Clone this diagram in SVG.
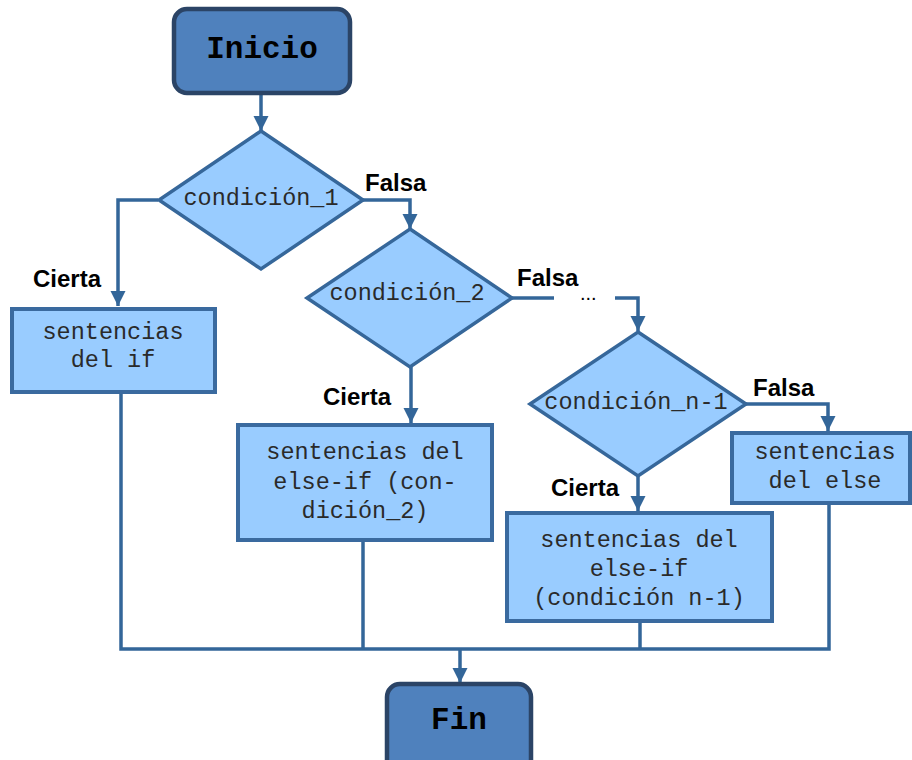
<svg xmlns="http://www.w3.org/2000/svg" width="912" height="760" viewBox="0 0 912 760">
  <defs>
    <marker id="arrow" markerUnits="userSpaceOnUse" markerWidth="16" markerHeight="16" refX="15" refY="7.5" orient="auto">
      <path d="M0,0 L15,7.5 L0,15 z" fill="#336699"/>
    </marker>
    <style>
      .term { fill: #4f81bd; stroke: #2b4466; stroke-width: 4.5; }
      .termtext { font-family: "Liberation Mono", "Courier New", monospace; font-weight: bold; font-size: 31px; fill: #000; text-anchor: middle; }
      .proc { fill: #99ccff; stroke: #3a6a9f; stroke-width: 4; }
      .dec { fill: #99ccff; stroke: #36679a; stroke-width: 3.5; stroke-linejoin: miter; }
      .mono { font-family: "Liberation Mono", "Courier New", monospace; font-size: 23.5px; fill: #2a2a2a; text-anchor: middle; }
      .lbl { font-family: "Liberation Sans", Arial, sans-serif; font-weight: bold; font-size: 24px; fill: #000; }
      .dots { font-family: "Liberation Sans", Arial, sans-serif; font-size: 20px; fill: #000; }
      .wire { fill: none; stroke: #336699; stroke-width: 3.5; }
    </style>
  </defs>

  <rect width="912" height="760" fill="#ffffff"/>

  <!-- connectors and branch labels -->
  <g id="connectors">
    <path class="wire" d="M261,94 V131" marker-end="url(#arrow)"/>
    <path class="wire" d="M362,200 H410 V229" marker-end="url(#arrow)"/>
    <path class="wire" d="M158,200 H118 V306" marker-end="url(#arrow)"/>
    <path class="wire" d="M411,367 V423" marker-end="url(#arrow)"/>
    <path class="wire" d="M511,298 H554"/>
    <path class="wire" d="M615,298 H638 V331" marker-end="url(#arrow)"/>
    <path class="wire" d="M638,476 V511" marker-end="url(#arrow)"/>
    <path class="wire" d="M746,404 H828 V431" marker-end="url(#arrow)"/>
    <path class="wire" d="M121,393 V649 H829 V503"/>
    <path class="wire" d="M363,541 V649"/>
    <path class="wire" d="M640,622 V649"/>
    <path class="wire" d="M460,649 V683" marker-end="url(#arrow)"/>
    <text class="lbl" x="365" y="191">Falsa</text>
    <text class="lbl" x="33" y="287">Cierta</text>
    <text class="lbl" x="517" y="286">Falsa</text>
    <text class="dots" x="580" y="300">...</text>
    <text class="lbl" x="323" y="405">Cierta</text>
    <text class="lbl" x="753" y="396">Falsa</text>
    <text class="lbl" x="551" y="496">Cierta</text>
  </g>

  <g id="inicio">
    <rect class="term" x="174" y="9" width="176" height="84" rx="13"/>
    <text class="termtext" x="262" y="58">Inicio</text>
  </g>

  <g id="cond1">
    <polygon class="dec" points="261,131 363,200 261,269 159,200"/>
    <text class="mono" x="261" y="205">condición_1</text>
  </g>

  <g id="if-body">
    <rect class="proc" x="12" y="309" width="203" height="83"/>
    <text class="mono" x="113" y="339">sentencias</text>
    <text class="mono" x="113" y="367">del if</text>
  </g>

  <g id="cond2">
    <polygon class="dec" points="410,229 512,298 410,367 307,298"/>
    <text class="mono" x="407" y="300">condición_2</text>
  </g>

  <g id="elseif2-body">
    <rect class="proc" x="238" y="425" width="254" height="115"/>
    <text class="mono" x="365" y="459">sentencias del</text>
    <text class="mono" x="365" y="489">else-if (con-</text>
    <text class="mono" x="365" y="518">dición_2)</text>
  </g>

  <g id="condn1">
    <polygon class="dec" points="638,332 746,404 638,476 530,404"/>
    <text class="mono" x="636" y="409">condición_n-1</text>
  </g>

  <g id="elseifn1-body">
    <rect class="proc" x="507" y="513" width="265" height="108"/>
    <text class="mono" x="639" y="547">sentencias del</text>
    <text class="mono" x="639" y="576">else-if</text>
    <text class="mono" x="639" y="605">(condición n-1)</text>
  </g>

  <g id="else-body">
    <rect class="proc" x="732" y="433" width="178" height="70"/>
    <text class="mono" x="825" y="459">sentencias</text>
    <text class="mono" x="825" y="488">del else</text>
  </g>

  <g id="fin">
    <rect class="term" x="387" y="684" width="144" height="90" rx="13"/>
    <text class="termtext" x="459" y="729">Fin</text>
  </g>
</svg>
